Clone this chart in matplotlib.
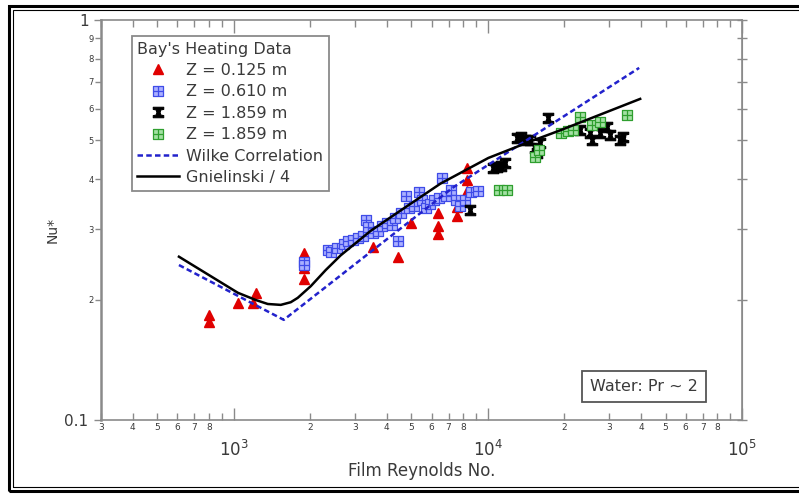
import matplotlib
matplotlib.use("Agg")
import matplotlib.pyplot as plt
from matplotlib.patches import Rectangle
from matplotlib.path import Path
from matplotlib.ticker import FixedLocator, FixedFormatter, NullFormatter

# Bay's heating data, Z = 0.125 m
re_z1 = [798, 798, 1037, 1188, 1220, 1884, 1884, 1884, 3517, 4411, 4961,
         6333, 6333, 6333, 7588, 7588, 8305, 8305, 8305]
nu_z1 = [0.183, 0.176, 0.196, 0.196, 0.208, 0.261, 0.240, 0.225, 0.271, 0.256, 0.311,
         0.329, 0.305, 0.292, 0.341, 0.324, 0.427, 0.398, 0.374]

# Z = 0.610 m
re_z2 = [1884, 1884, 2341, 2405, 2540, 2705, 2805, 2935, 3071, 3213, 3301, 3361,
         3517, 3680, 3815, 3993, 4177, 4293, 4411, 4532, 4742, 4872, 5097, 5333,
         5480, 5681, 5890, 6107, 6390, 6566, 6869, 7187, 7518, 7796, 8157, 8612, 9177]
nu_z2 = [0.248, 0.244, 0.266, 0.263, 0.269, 0.275, 0.280, 0.282, 0.285, 0.288, 0.316, 0.304,
         0.293, 0.297, 0.305, 0.311, 0.307, 0.320, 0.280, 0.329, 0.363, 0.339, 0.343, 0.372,
         0.355, 0.339, 0.347, 0.355, 0.359, 0.403, 0.363, 0.376, 0.355, 0.343, 0.355, 0.372, 0.374]

# Z = 1.859 m (black)
re_z3 = [8534, 10510, 10900, 11300, 11720, 13060, 13540, 14040, 14690, 15370, 15650,
         16080, 17290, 23100, 25280, 25740, 27670, 29480, 30290, 33160, 34070]
nu_z3 = [0.335, 0.427, 0.429, 0.432, 0.439, 0.507, 0.510, 0.501, 0.501, 0.479, 0.465,
         0.493, 0.569, 0.531, 0.522, 0.501, 0.522, 0.540, 0.516, 0.501, 0.510]

# Z = 1.859 m (green)
re_z4 = [11100, 11900, 15370, 15900, 19450, 20720, 21680, 23100, 25740, 27670, 35330]
nu_z4 = [0.376, 0.376, 0.455, 0.473, 0.522, 0.528, 0.531, 0.572, 0.547, 0.556, 0.579]

# correlations
re_wilke = [608, 1572, 7318, 39380]
nu_wilke = [0.244, 0.178, 0.382, 0.759]
re_gn = [608, 1037, 1220, 1360, 1530, 1675, 1784, 2007, 2298, 2633, 3453, 4532,
         6508, 10040, 14690, 19270, 39740]
nu_gn = [0.256, 0.208, 0.1995, 0.195, 0.194, 0.197, 0.202, 0.216, 0.237, 0.258, 0.297, 0.334,
         0.390, 0.452, 0.497, 0.530, 0.635]

labels = ["Z = 0.125 m", "Z = 0.610 m", "Z = 1.859 m", "Z = 1.859 m",
          "Wilke Correlation", "Gnielinski / 4"]

# marker shapes
box_cross = Path(
    [(-1, -1), (1, -1), (1, 1), (-1, 1), (-1, -1), (0, -1), (0, 1), (-1, 0), (1, 0)],
    [Path.MOVETO, Path.LINETO, Path.LINETO, Path.LINETO, Path.CLOSEPOLY,
     Path.MOVETO, Path.LINETO, Path.MOVETO, Path.LINETO],
)
hourglass = Path(
    [(-1, 1), (1, 1), (1, 0.6), (0.45, 0.5), (0.3, 0), (0.45, -0.5), (1, -0.6),
     (1, -1), (-1, -1), (-1, -0.6), (-0.45, -0.5), (-0.3, 0), (-0.45, 0.5),
     (-1, 0.6), (-1, 1)],
    closed=True,
)

W, H = 799, 496
fig = plt.figure(figsize=(W / 100, H / 100), dpi=100)
ax = fig.add_axes([101 / W, 76 / H, 641 / W, 400 / H])

ax.plot(re_z1, nu_z1, ls="none", marker="^", ms=7, color="#e00000", mec="#e00000",
        label=labels[0], zorder=3)
ax.plot(re_z2, nu_z2, ls="none", marker=box_cross, ms=6.5, mfc="#aab0ff", mec="#3f4ce8",
        mew=0.9, label=labels[1], zorder=3)
ax.plot(re_z3, nu_z3, ls="none", marker=hourglass, ms=7.5, color="black", mew=0.8,
        label=labels[2], zorder=3)
ax.plot(re_z4, nu_z4, ls="none", marker=box_cross, ms=6.5, mfc="#a3e0a3", mec="#2f9f2f",
        mew=0.9, label=labels[3], zorder=3)
ax.plot(re_wilke, nu_wilke, ls=(0, (2.2, 1.3)), color="#2222cc", lw=1.8,
        label=labels[4], zorder=4)
ax.plot(re_gn, nu_gn, color="black", lw=1.8, label=labels[5], zorder=4)

ax.set_xscale("log")
ax.set_yscale("log")
ax.set_xlim(300, 1e5)
ax.set_ylim(0.1, 1)

# x ticks
x_major = [1e3, 1e4, 1e5]
x_minor = [m * 10 ** e for e in (2, 3, 4) for m in range(2, 10) if m * 10 ** e >= 300]
x_minor_lab = [str(int(str(int(v))[0])) if int(str(int(v))[0]) <= 8 else "" for v in x_minor]
ax.xaxis.set_major_locator(FixedLocator(x_major))
ax.xaxis.set_major_formatter(FixedFormatter(["$10^3$", "$10^4$", "$10^5$"]))
ax.xaxis.set_minor_locator(FixedLocator(x_minor))
ax.xaxis.set_minor_formatter(FixedFormatter(x_minor_lab))

# y ticks
y_minor = [m / 10 for m in range(2, 10)]
ax.yaxis.set_major_locator(FixedLocator([0.1, 1]))
ax.yaxis.set_major_formatter(FixedFormatter(["0.1", "1"]))
ax.yaxis.set_minor_locator(FixedLocator(y_minor))
ax.yaxis.set_minor_formatter(FixedFormatter([str(m) for m in range(2, 10)]))

grey = "#8a8a8a"
txt = "#3a3a3a"
for side in ax.spines.values():
    side.set_color(grey)
    side.set_linewidth(1.2)
ax.spines["left"].set_linewidth(1.8)

ax.tick_params(axis="x", which="both", direction="in", top=True, color=grey, width=1)
ax.tick_params(axis="x", which="major", length=9, labelsize=12, pad=14, labelcolor=txt)
ax.tick_params(axis="x", which="minor", length=5, labelsize=6.5, pad=2, labelcolor=txt)
ax.tick_params(axis="y", which="both", direction="out", color=grey, width=1)
ax.tick_params(axis="y", which="major", length=5, labelsize=11, pad=4, labelcolor=txt)
ax.tick_params(axis="y", which="minor", length=4, labelsize=6, pad=1, labelcolor=txt)

# right-hand ticks cross the frame
sec = ax.secondary_yaxis("right")
sec.set_yscale("log")
sec.yaxis.set_major_locator(FixedLocator([0.1, 1]))
sec.yaxis.set_minor_locator(FixedLocator(y_minor))
sec.yaxis.set_major_formatter(NullFormatter())
sec.yaxis.set_minor_formatter(NullFormatter())
sec.tick_params(which="both", direction="inout", length=7, color=grey, width=1)
sec.spines["right"].set_color(grey)

ax.set_xlabel("Film Reynolds No.", fontsize=12, color=txt, labelpad=2)
ax.set_ylabel("Nu*", fontsize=10, color=txt)
ax.yaxis.set_label_coords(-0.064, 0.475)

leg = ax.legend(loc="upper left", bbox_to_anchor=(0.048, 0.96), borderaxespad=0,
                title="Bay's Heating Data", alignment="left", fontsize=11.5,
                title_fontsize=11.5, fancybox=False, framealpha=1, edgecolor=grey,
                handlelength=2.6, handletextpad=0.45, labelspacing=0.4,
                borderpad=0.35)
leg.get_frame().set_linewidth(1.3)
for t in leg.get_texts():
    t.set_color(txt)
leg.get_title().set_color(txt)

ax.text(0.847, 0.083, "Water: Pr ~ 2", transform=ax.transAxes, ha="center", va="center",
        fontsize=11.5, color=txt,
        bbox=dict(boxstyle="square,pad=0.5", fc="white", ec="#555555", lw=1.3))

# double frame round the picture
fig.add_artist(Rectangle((9 / W, 5 / H), 1.2, 485 / H, transform=fig.transFigure,
                         fill=False, ec="black", lw=2.2))
fig.add_artist(Rectangle((13 / W, 9.5 / H), 1.2, 477 / H, transform=fig.transFigure,
                         fill=False, ec="black", lw=0.8))

fig.savefig("out.png", dpi=100)
